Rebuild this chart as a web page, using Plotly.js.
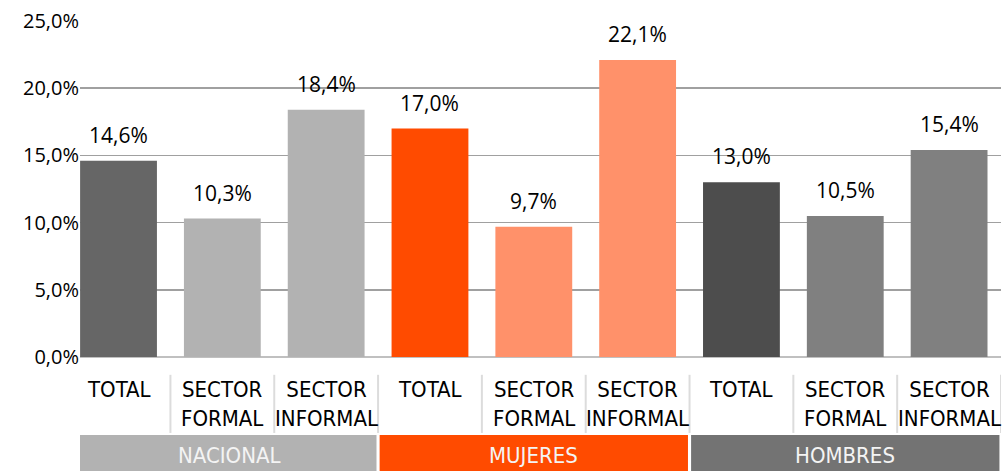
<!DOCTYPE html>
<html><head><meta charset="utf-8">
<script src="https://cdn.plot.ly/plotly-3.0.1.min.js"></script>
<style>html,body{margin:0;padding:0;background:#fff;}#chart{width:1004px;height:471px;}</style>
</head><body><div id="chart"></div>
<script>
// Data
const groups = ['NACIONAL', 'MUJERES', 'HOMBRES'];
const subLabels = ['TOTAL', 'SECTOR<br>FORMAL', 'SECTOR<br>INFORMAL'];
const categories = ['NACIONAL TOTAL','NACIONAL FORMAL','NACIONAL INFORMAL',
                    'MUJERES TOTAL','MUJERES FORMAL','MUJERES INFORMAL',
                    'HOMBRES TOTAL','HOMBRES FORMAL','HOMBRES INFORMAL'];
const values = [14.6, 10.3, 18.4, 17.0, 9.7, 22.1, 13.0, 10.5, 15.4];
const barColors = ['#666666','#b2b2b2','#b2b2b2','#ff4b00','#ff916a','#ff916a','#4d4d4d','#808080','#808080'];
const groupColors = ['#b2b2b2','#ff4b00','#737373'];
const yTicks = [0, 5, 10, 15, 20, 25];

const labelFont = '"DejaVu Sans Condensed", "Open Sans", sans-serif';
const numFont = '"Open Sans", "Noto Sans", sans-serif';
const xRange = [-0.371, 8.5];
const fmt = v => v.toFixed(1).replace('.', ',') + '%';

const shapes = [];
const annotations = [];
categories.forEach((c, i) => {
  annotations.push({
    x: c, xref: 'x', y: values[i], yref: 'y', yanchor: 'bottom', yshift: 10,
    text: fmt(values[i]), showarrow: false,
    font: {family: numFont, size: 21, color: '#000'}
  });
  annotations.push({
    x: i, xref: 'x', y: -0.055, yref: 'paper', yanchor: 'top',
    text: subLabels[i % 3], showarrow: false,
    font: {family: labelFont, size: 22, color: '#000'}
  });
  shapes.push({
    type: 'line', xref: 'x', yref: 'paper',
    x0: i + 0.5, x1: i + 0.5, y0: -0.053, y1: -0.226,
    line: {color: '#dcdcdc', width: 2}
  });
});
groups.forEach((g, k) => {
  const x0 = Math.max(xRange[0], 3 * k - 0.5);
  const x1 = 3 * k + 2.5;
  shapes.push({
    type: 'rect', xref: 'x', yref: 'paper',
    x0: x0 + (k > 0 ? 0.015 : 0), x1: x1 - 0.015, y0: -0.232, y1: -0.345,
    fillcolor: groupColors[k], line: {width: 0}, layer: 'above'
  });
  annotations.push({
    x: (x0 + x1) / 2, xref: 'x', y: -0.292, yref: 'paper', yanchor: 'middle',
    text: g, showarrow: false,
    font: {family: labelFont, size: 22, color: '#f4f4f4'}
  });
});

const trace = {
  type: 'bar',
  x: categories,
  y: values,
  marker: {color: barColors},
  hoverinfo: 'none'
};

const layout = {
  width: 1004, height: 471,
  margin: {l: 80, r: 3, t: 21, b: 114},
  paper_bgcolor: '#fff', plot_bgcolor: '#fff',
  showlegend: false,
  bargap: 0.26,
  xaxis: {
    type: 'category', range: xRange, showticklabels: false,
    showgrid: false, zeroline: false, showline: false, ticks: ''
  },
  yaxis: {
    range: [0, 25], tickvals: yTicks,
    ticktext: yTicks.map(fmt),
    showgrid: true, gridcolor: '#a0a0a0', gridwidth: 1.5,
    zeroline: true, zerolinecolor: '#c0c0c0', zerolinewidth: 2,
    showline: false, ticks: '', ticklen: 0,
    tickfont: {family: numFont, size: 20, color: '#000'}
  },
  shapes: shapes,
  annotations: annotations
};

Plotly.newPlot('chart', [trace], layout, {displayModeBar: false, staticPlot: true});
</script>
</body></html>
